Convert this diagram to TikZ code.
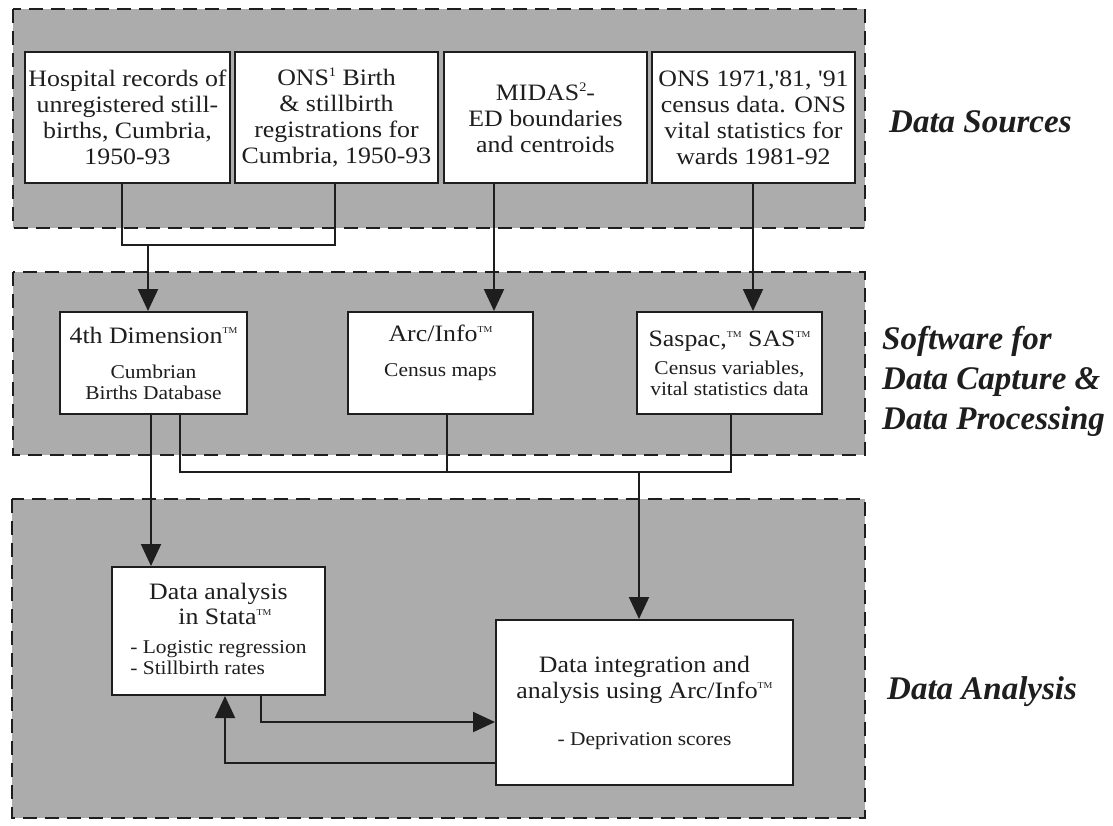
\documentclass[tikz,border=0pt]{standalone}
\usepackage{fontspec}
\setmainfont{Liberation Serif}
\newfontfamily\boxfont[FakeStretch=1.1]{Liberation Serif}
\usetikzlibrary{arrows.meta}
\definecolor{panelgray}{RGB}{172,172,172}
\definecolor{ink}{RGB}{30,30,30}
\newcommand\txtA{\boxfont\fontsize{23.5}{26}\selectfont}
\newcommand\txtB{\boxfont\fontsize{19.5}{21}\selectfont}
\newcommand\tmk{\raisebox{0.85ex}{\fontsize{9}{9}\selectfont TM}}
\newcommand\supn[1]{\raisebox{0.8ex}{\fontsize{13}{13}\selectfont #1}}
\begin{document}
\begin{tikzpicture}[x=1pt,y=-1pt,
  panel/.style={draw=ink, fill=panelgray, line width=2.5pt, dash pattern=on 14pt off 8pt},
  box/.style={draw=ink, fill=white, line width=2pt, inner sep=0pt, align=center, text=ink},
  conn/.style={draw=ink, line width=2pt, line join=miter},
  arr/.style={conn, -{Triangle[length=22pt,width=20pt]}},
  side/.style={anchor=west, align=left, inner sep=0pt, text=ink,
    font=\fontsize{33}{40}\selectfont\bfseries\itshape},
]
\useasboundingbox (0,0) rectangle (1113,825);
\fill[white] (0,0) rectangle (1113,825);

% panels
\draw[panel] (13,9) rectangle (865,228);
\draw[panel] (13,272) rectangle (865,455);
\draw[panel] (12,499) rectangle (865,818);

% data sources
\node[box, font=\txtA, minimum width=205pt, minimum height=131pt] (b1) at (127.5,117.5)
  {Hospital records of\\ unregistered still-\\ births, Cumbria,\\ 1950-93};
\node[box, font=\txtA, minimum width=203pt, minimum height=131pt] (b2) at (336.5,117.5)
  {ONS\supn{1} Birth\\ \& stillbirth\\ registrations for\\ Cumbria, 1950-93};
\node[box, font=\txtA, minimum width=203pt, minimum height=131pt] (b3) at (545.5,117.5)
  {MIDAS\supn{2}-\\ ED boundaries\\ and centroids};
\node[box, font=\txtA, minimum width=203pt, minimum height=131pt] (b4) at (753.5,117.5)
  {ONS 1971,'81, '91\\ census data. ONS\\ vital statistics for\\ wards 1981-92};

% software
\node[box, font=\txtB, minimum width=187pt, minimum height=102pt] (d4) at (153.5,363)
  {{\txtA 4th Dimension\tmk}\\[14pt] Cumbrian\\ Births Database};
\node[box, font=\txtB, minimum width=185pt, minimum height=102pt] (arc) at (440.5,363)
  {{\txtA Arc/Info\tmk}\\[14pt] Census maps\\ \phantom{Cg}};
\node[box, font=\txtB, minimum width=185pt, minimum height=102pt] (sas) at (729.5,363)
  {{\txtA Saspac,\tmk\ SAS\tmk}\\[7pt] Census variables,\\ vital statistics data};

% analysis
\node[box, font=\txtB, minimum width=213pt, minimum height=128pt] (stata) at (218.5,631)
  {{\txtA Data analysis}\\[4pt] {\txtA \ \ in Stata\tmk}\\[8pt] - Logistic regression\\
   \rlap{- Stillbirth rates}\phantom{- Logistic regression}};
\node[box, font=\txtA, minimum width=297pt, minimum height=165pt] (integ) at (644.5,702.5)
  {Data integration and\\ analysis using Arc/Info\tmk\\[21pt] {\txtB - Deprivation scores}};

% side labels
\node[side] (l1) at (889,122) {Data Sources};
\node[side] (l2) at (882,381) {Software for\\ Data Capture \&\\ Data Processing};
\node[side] (l3) at (887,692) {Data Analysis};

% connectors: sources -> software
\coordinate (j1) at (122,245);
\coordinate (j2) at (335,245);
\coordinate (j3) at (148,245);
\coordinate (c3) at (494,245);
\coordinate (c4) at (753,245);
\draw[conn] (b1.south -| j1) -- (j1) -- (j2) -- (b2.south -| j2);
\draw[arr] (j3) -- (d4.north -| j3);
\draw[arr] (b3.south -| c3) -- (arc.north -| c3);
\draw[arr] (b4.south -| c4) -- (sas.north -| c4);

% software -> analysis
\coordinate (k1) at (151,472);
\coordinate (k2) at (180,472);
\coordinate (k3) at (731,472);
\coordinate (k4) at (447,472);
\coordinate (k5) at (639,472);
\draw[arr] (d4.south -| k1) -- (stata.north -| k1);
\draw[conn] (d4.south -| k2) -- (k2) -- (k3) -- (sas.south -| k3);
\draw[conn] (arc.south -| k4) -- (k4);
\draw[arr] (k5) -- (integ.north -| k5);

% analysis loop
\coordinate (m1) at (261,722);
\coordinate (m2) at (225,763);
\draw[arr] (stata.south -| m1) -- (m1) -- (integ.west |- m1);
\draw[arr] (integ.west |- m2) -- (m2) -- (stata.south -| m2);
\end{tikzpicture}
\end{document}
